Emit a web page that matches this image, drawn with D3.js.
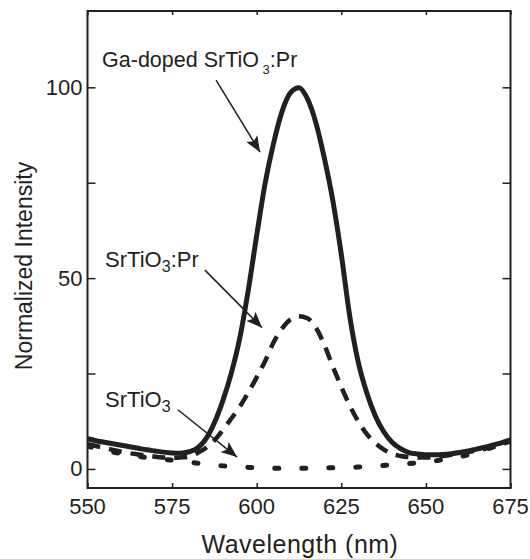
<!DOCTYPE html>
<html lang="en">
	<head>
		<meta charset="utf-8">
		<title>Normalized Intensity</title>
		<script type="text/javascript" src="https://cdn.jsdelivr.net/npm/d3@7/dist/d3.min.js"></script>
		<style>
			body { margin: 0; background: #fff; }
			text { font-family: "Liberation Sans", Arial, sans-serif; fill: #231f20; }
		</style>
	</head>
	<body>
    <script type="text/javascript">
			//data
			var wavelength = [550, 552.5, 555, 557.5, 560, 562.5, 565, 567.5, 570, 572.5,
				575, 577.5, 580, 582.5, 585, 587.5, 590, 592.5, 595, 597.5,
				600, 602.5, 605, 607.5, 610, 612.5, 615, 617.5, 620, 622.5,
				625, 627.5, 630, 632.5, 635, 637.5, 640, 642.5, 645, 647.5,
				650, 652.5, 655, 657.5, 660, 662.5, 665, 667.5, 670, 672.5, 675];
			var gaDoped = [7.9, 7.4, 7.0, 6.6, 6.2, 5.8, 5.4, 5.0, 4.7, 4.4,
				4.2, 4.1, 4.5, 5.5, 7.9, 12.1, 17.9, 25.1, 34.3, 46.8,
				61.2, 74.9, 85.4, 93.7, 98.6, 99.9, 97.0, 90.7, 81.4, 70.3,
				56.2, 40, 28, 20, 14, 9.8, 7, 5.3, 4.3, 3.9,
				3.7, 3.7, 3.8, 4.0, 4.3, 4.7, 5.2, 5.7, 6.3, 6.9, 7.6];
			var prDoped = [6.5, 6.0, 5.5, 5.0, 4.5, 4.1, 3.8, 3.5, 3.2, 3.0,
				2.9, 3.0, 3.2, 4.2, 5.5, 7.5, 10.2, 13.2, 16.3, 20,
				24, 28.3, 33.2, 36.8, 39.2, 40, 39.5, 37, 32.5, 26.8,
				21.5, 16.6, 12.5, 9.2, 6.8, 5.1, 3.9, 3.4, 3.1, 3.0,
				3.0, 3.2, 3.4, 3.7, 4.0, 4.4, 4.8, 5.3, 5.8, 6.5, 7.2];
			var undoped = [6.0, 5.4, 4.9, 4.4, 4.0, 3.6, 3.3, 3.0, 2.8, 2.5,
				2.3, 2.0, 1.8, 1.5, 1.3, 1.0, 0.8, 0.6, 0.5, 0.4,
				0.3, 0.3, 0.2, 0.2, 0.2, 0.2, 0.2, 0.2, 0.3, 0.3,
				0.4, 0.4, 0.5, 0.6, 0.7, 0.9, 1.1, 1.2, 1.4, 1.6,
				1.8, 2.1, 2.4, 2.8, 3.2, 3.7, 4.3, 5.0, 5.8, 6.6, 7.4];
			var xTicks = [550, 575, 600, 625, 650, 675];
			var yTicks = [0, 25, 50, 75, 100];
			var yLabels = [0, 50, 100];

			//setup
			var width = 530;
			var height = 559;
			var plotL = 87.5, plotR = 510.5, plotT = 11, plotB = 488;
			var ink = "#231f20";

			var svg = d3.select("body")
									.append("svg")
									.attr("width", width)
									.attr("height", height);

			var x = d3.scaleLinear().domain([550, 675]).range([plotL, plotR]);
			var y = d3.scaleLinear().domain([-5, 120]).range([plotB, plotT]);

			svg.append("clipPath").attr("id", "plot")
					.append("rect")
					.attr("x", plotL).attr("y", plotT)
					.attr("width", plotR - plotL).attr("height", plotB - plotT);

			//inward ticks on all four sides
			svg.append("g").attr("transform", "translate(0," + plotB + ")")
					.call(d3.axisTop(x).tickValues(xTicks).tickSize(5).tickFormat(""));
			svg.append("g").attr("transform", "translate(0," + plotT + ")")
					.call(d3.axisBottom(x).tickValues(xTicks).tickSize(4).tickFormat(""));
			svg.append("g").attr("transform", "translate(" + plotL + ",0)")
					.call(d3.axisRight(y).tickValues(yTicks).tickSize(8).tickFormat(""));
			svg.append("g").attr("transform", "translate(" + plotR + ",0)")
					.call(d3.axisLeft(y).tickValues(yTicks).tickSize(8).tickFormat(""));
			svg.selectAll(".domain").remove();
			svg.selectAll(".tick line").attr("stroke", ink).attr("stroke-width", 1.5);

			//tick labels
			svg.selectAll(".xlab")
					.data(xTicks)
					.enter().append("text")
					.attr("x", function(d) { return x(d); })
					.attr("y", 514)
					.attr("text-anchor", "middle")
					.attr("font-size", 22)
					.text(function(d) { return d; });
			svg.selectAll(".ylab")
					.data(yLabels)
					.enter().append("text")
					.attr("x", plotL - 5)
					.attr("y", function(d) { return y(d) + 7.5; })
					.attr("text-anchor", "end")
					.attr("font-size", 22)
					.text(function(d) { return d; });

			//axis titles
			svg.append("text")
					.attr("x", 300).attr("y", 553)
					.attr("text-anchor", "middle")
					.attr("font-size", 25)
					.attr("letter-spacing", 0.5)
					.text("Wavelength (nm)");
			svg.append("text")
					.attr("transform", "translate(32,266) rotate(-90)")
					.attr("text-anchor", "middle")
					.attr("font-size", 23)
					.text("Normalized Intensity");

			//curves
			var series = [
				{values: gaDoped, width: 5, dash: null, cap: "butt"},
				{values: prDoped, width: 4.5, dash: "13,9", cap: "butt"},
				{values: undoped, width: 5, dash: "4,23", cap: "round"}
			];
			var line = d3.line()
					.x(function(d) { return x(d[0]); })
					.y(function(d) { return y(d[1]); })
					.curve(d3.curveMonotoneX);

			svg.append("g").attr("clip-path", "url(#plot)")
					.selectAll("path")
					.data(series)
					.enter().append("path")
					.attr("d", function(s) { return line(d3.zip(wavelength, s.values)); })
					.attr("fill", "none")
					.attr("stroke", ink)
					.attr("stroke-width", function(s) { return s.width; })
					.attr("stroke-dasharray", function(s) { return s.dash; })
					.attr("stroke-linecap", function(s) { return s.cap; });

			//frame
			svg.append("rect")
					.attr("x", plotL).attr("y", plotT)
					.attr("width", plotR - plotL).attr("height", plotB - plotT)
					.attr("fill", "none")
					.attr("stroke", ink)
					.attr("stroke-width", 2);

			//annotations, in data units
			var notes = [
				{x: 554.3, y: 105.3, main: "Ga-doped SrTiO", sub: " 3", rest: ":Pr", size: 21.5, subSize: 13, subDy: 7,
					from: [588, 101.9], to: [601, 83]},
				{x: 555.2, y: 52.9, main: "SrTiO", sub: "3", rest: ":Pr", size: 22, subSize: 16, subDy: 5,
					from: [584.7, 52.1], to: [601.6, 37]},
				{x: 555.2, y: 16.2, main: "SrTiO", sub: "3", rest: "", size: 22, subSize: 16, subDy: 5,
					from: [576.7, 15.5], to: [594.2, 3.1]}
			];

			svg.append("defs").append("marker")
					.attr("id", "head")
					.attr("viewBox", "0 0 16 13")
					.attr("refX", 16).attr("refY", 6.5)
					.attr("markerWidth", 16).attr("markerHeight", 13)
					.attr("markerUnits", "userSpaceOnUse")
					.attr("orient", "auto")
					.append("path")
					.attr("d", "M0,0 L16,6.5 L0,13 L3.5,6.5 Z")
					.attr("fill", ink);

			notes.forEach(function(n) {
				var t = svg.append("text")
						.attr("x", x(n.x)).attr("y", y(n.y))
						.attr("font-size", n.size);
				t.append("tspan").text(n.main);
				t.append("tspan").attr("font-size", n.subSize).attr("dy", n.subDy).text(n.sub);
				t.append("tspan").attr("dy", -n.subDy).text(n.rest);

				svg.append("line")
						.attr("x1", x(n.from[0])).attr("y1", y(n.from[1]))
						.attr("x2", x(n.to[0])).attr("y2", y(n.to[1]))
						.attr("stroke", ink)
						.attr("stroke-width", 1.5)
						.attr("marker-end", "url(#head)");
			});
    </script>
  </body>
</html>
